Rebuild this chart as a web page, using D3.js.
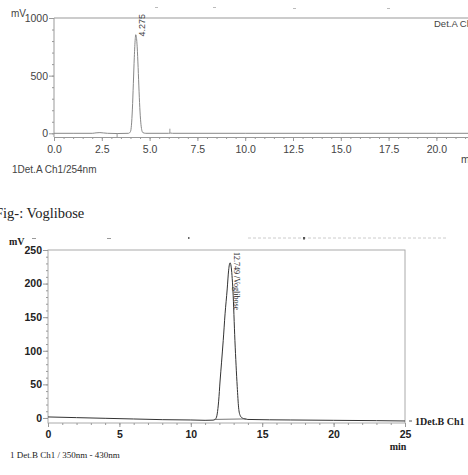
<!DOCTYPE html>
<html>
<head>
<meta charset="utf-8">
<script src="https://cdn.jsdelivr.net/npm/d3@7"></script>
<style>
  body { margin: 0; background: #fff; }
  svg { display: block; }
</style>
</head>
<body>
<svg id="svg" width="468" height="475"></svg>
<script>
// --- top chromatogram (Det.A Ch1 / 254nm)
const topTimes = [0, 1.0, 2.0, 2.2, 2.4, 2.6, 2.8, 3.3, 3.9, 4.0, 4.05, 4.1, 4.15, 4.2, 4.25, 4.275, 4.3, 4.35, 4.4, 4.45, 4.5, 4.55, 4.6, 4.65, 4.8, 6.0, 6.1, 6.2, 10, 15, 20, 25];
const topValues = [0, 0, 0, 4, 6, 3, 0, -2, 0, 15, 70, 210, 430, 660, 820, 855, 845, 750, 570, 360, 185, 75, 22, 6, 0, 0, 2, 0, 0, 0, 0, 0];
const topXTicks = [0, 2.5, 5, 7.5, 10, 12.5, 15, 17.5, 20];
const topYTicks = [0, 500, 1000];
const topPeakLabel = "4.275";

// --- bottom chromatogram (Det.B Ch1 / 350nm - 430nm)
const botTimes = [0, 2, 4, 6, 8, 10, 11, 11.6, 11.75, 11.85, 11.95, 12.05, 12.15, 12.27, 12.4, 12.55, 12.65, 12.75, 12.82, 12.95, 13.09, 13.25, 13.35, 13.45, 13.6, 13.8, 14, 17, 20, 23, 25];
const botValues = [1.5, 0.5, -0.5, -1.5, -2.5, -3, -3.5, -3.2, -1, 6, 25, 55, 82, 115, 155, 192, 220, 231, 226, 190, 115, 47, 15, 4, 0, -1.5, -2.2, -3, -3.5, -4, -4.5];
const botXTicks = [0, 5, 10, 15, 20, 25];
const botYTicks = [0, 50, 100, 150, 200, 250];
const botPeakLabel = "12.749 /Voglibose";
const botBaseTimes = [11.6, 13.9];
const botBaseValues = [-2.2, -1.4];

const range = (a, b, s) => d3.range(a, b + s / 2, s).map(v => +v.toFixed(2));

const svg = d3.select("#svg");

// ===== top chart =====
const xA = d3.scaleLinear([0, 25], [54, 532]);
const yA = d3.scaleLinear([-32, 1000], [137, 18]);
const gA = svg.append("g")
  .style("font-family", "'Liberation Sans', Arial, sans-serif")
  .attr("fill", "#444");

// scraps of cropped header text
[[155, 7], [213, 7], [293, 8], [387, 8]].forEach(([x, y]) => {
  gA.append("rect").attr("x", x).attr("y", y).attr("width", 3).attr("height", 1).attr("fill", "#bbb");
});

gA.append("line").attr("x1", 54).attr("x2", 540).attr("y1", 18).attr("y2", 18).attr("stroke", "#999");
gA.append("line").attr("x1", 54).attr("x2", 54).attr("y1", 18).attr("y2", 137).attr("stroke", "#999");

const minorA = gA.append("g").attr("transform", "translate(0,137)")
  .call(d3.axisBottom(xA).tickValues(range(0, 25, 0.5)).tickSize(2).tickFormat(""));
minorA.select(".domain").remove();
minorA.selectAll("line").attr("stroke", "#999");

const axA = gA.append("g").attr("transform", "translate(0,137)")
  .call(d3.axisBottom(xA).tickValues(topXTicks).tickSize(4).tickPadding(5).tickFormat(d3.format(".1f")));
axA.select(".domain").attr("stroke", "#999");
axA.selectAll("line").attr("stroke", "#999");
axA.selectAll("text").attr("fill", "#444").style("font-size", "10.5px");

const minorAy = gA.append("g").attr("transform", "translate(54,0)")
  .call(d3.axisLeft(yA).tickValues(range(0, 1000, 100)).tickSize(2).tickFormat(""));
minorAy.select(".domain").remove();
minorAy.selectAll("line").attr("stroke", "#999");

const ayA = gA.append("g").attr("transform", "translate(54,0)")
  .call(d3.axisLeft(yA).tickValues(topYTicks).tickSize(5).tickPadding(1).tickFormat(d3.format("d")));
ayA.select(".domain").remove();
ayA.selectAll("line").attr("stroke", "#999");
ayA.selectAll("text").attr("fill", "#444").style("font-size", "10.5px");

const lineA = d3.line().x(i => xA(topTimes[i])).y(i => yA(topValues[i])).curve(d3.curveMonotoneX);
gA.append("path")
  .attr("d", lineA(d3.range(topTimes.length)))
  .attr("fill", "none").attr("stroke", "#888").attr("stroke-width", 1);

// peak start / end markers
gA.append("line").attr("x1", xA(3.3)).attr("x2", xA(3.3)).attr("y1", yA(-5)).attr("y2", yA(-40)).attr("stroke", "#999");
gA.append("line").attr("x1", xA(6.06)).attr("x2", xA(6.06)).attr("y1", yA(40)).attr("y2", yA(0)).attr("stroke", "#999");

gA.append("text")
  .attr("transform", `translate(${xA(4.275) + 9},${yA(840)}) rotate(-90)`)
  .style("font-size", "9px").text(topPeakLabel);

gA.append("text").attr("x", 11).attr("y", 17).style("font-size", "10px").text("mV");
gA.append("text").attr("x", 434).attr("y", 27).style("font-size", "9.5px").text("Det.A Ch1");
gA.append("text").attr("x", 461).attr("y", 163).style("font-size", "10.5px").text("min");
gA.append("text").attr("x", 12).attr("y", 173).style("font-size", "10px").text("1Det.A Ch1/254nm");

// ===== caption =====
svg.append("text")
  .attr("x", -5).attr("y", 218)
  .style("font-family", "'Liberation Serif', 'Times New Roman', serif")
  .style("font-size", "14.5px").attr("fill", "#222")
  .text("Fig-: Voglibose");

// ===== bottom chart =====
const xB = d3.scaleLinear([0, 25], [48, 405]);
const yB = d3.scaleLinear([-7.5, 250], [423, 250]);
const gB = svg.append("g")
  .style("font-family", "'Liberation Serif', 'Times New Roman', serif")
  .attr("fill", "#222");

// scraps of cropped header text
[[32, 238], [107, 238]].forEach(([x, y]) => {
  gB.append("rect").attr("x", x).attr("y", y).attr("width", 4).attr("height", 1).attr("fill", "#999");
});
gB.append("rect").attr("x", 188).attr("y", 237).attr("width", 1.5).attr("height", 2).attr("fill", "#666");
gB.append("line").attr("x1", 248).attr("x2", 448).attr("y1", 238).attr("y2", 238)
  .attr("stroke", "#ccc").attr("stroke-dasharray", "3,2");
gB.append("rect").attr("x", 303).attr("y", 237).attr("width", 2).attr("height", 2.5).attr("fill", "#555");

gB.append("rect").attr("x", 48).attr("y", 250).attr("width", 357).attr("height", 173)
  .attr("fill", "none").attr("stroke", "#aaa");

const minorB = gB.append("g").attr("transform", "translate(0,423)")
  .call(d3.axisBottom(xB).tickValues(range(0, 25, 1)).tickSize(2).tickFormat(""));
minorB.select(".domain").remove();
minorB.selectAll("line").attr("stroke", "#999");

const axB = gB.append("g").attr("transform", "translate(0,423)")
  .call(d3.axisBottom(xB).tickValues(botXTicks).tickSize(4).tickPadding(4));
axB.select(".domain").remove();
axB.selectAll("line").attr("stroke", "#999");
axB.selectAll("text").attr("fill", "#222").style("font-size", "10.5px").style("font-weight", "bold");

const minorBy = gB.append("g").attr("transform", "translate(48,0)")
  .call(d3.axisLeft(yB).tickValues(range(0, 250, 10)).tickSize(2).tickFormat(""));
minorBy.select(".domain").remove();
minorBy.selectAll("line").attr("stroke", "#999");

const ayB = gB.append("g").attr("transform", "translate(48,0)")
  .call(d3.axisLeft(yB).tickValues(botYTicks).tickSize(5).tickPadding(1));
ayB.select(".domain").remove();
ayB.selectAll("line").attr("stroke", "#999");
ayB.selectAll("text").attr("fill", "#222").style("font-size", "10.5px").style("font-weight", "bold");

const lineB = d3.line().x(i => xB(botTimes[i])).y(i => yB(botValues[i])).curve(d3.curveMonotoneX);
gB.append("path")
  .attr("d", lineB(d3.range(botTimes.length)))
  .attr("fill", "none").attr("stroke", "#333").attr("stroke-width", 1);

gB.append("line")
  .attr("x1", xB(botBaseTimes[0])).attr("y1", yB(botBaseValues[0]))
  .attr("x2", xB(botBaseTimes[1])).attr("y2", yB(botBaseValues[1]))
  .attr("stroke", "#555").attr("stroke-width", 0.8);

gB.append("text")
  .attr("transform", `translate(${xB(12.749) + 4},252) rotate(90)`)
  .style("font-size", "8px").text(botPeakLabel);

gB.append("text").attr("x", 9).attr("y", 245).style("font-size", "10px").style("font-weight", "bold").text("mV");
gB.append("line").attr("x1", 409).attr("x2", 412).attr("y1", 421).attr("y2", 421).attr("stroke", "#555");
gB.append("text").attr("x", 415).attr("y", 424.5).style("font-size", "10px").style("font-weight", "bold").text("1Det.B Ch1");
gB.append("text").attr("x", 398).attr("y", 450).attr("text-anchor", "middle")
  .style("font-size", "10px").style("font-weight", "bold").text("min");
gB.append("text").attr("x", 10).attr("y", 458).style("font-size", "9px").text("1 Det.B Ch1 / 350nm - 430nm");
</script>
</body>
</html>
